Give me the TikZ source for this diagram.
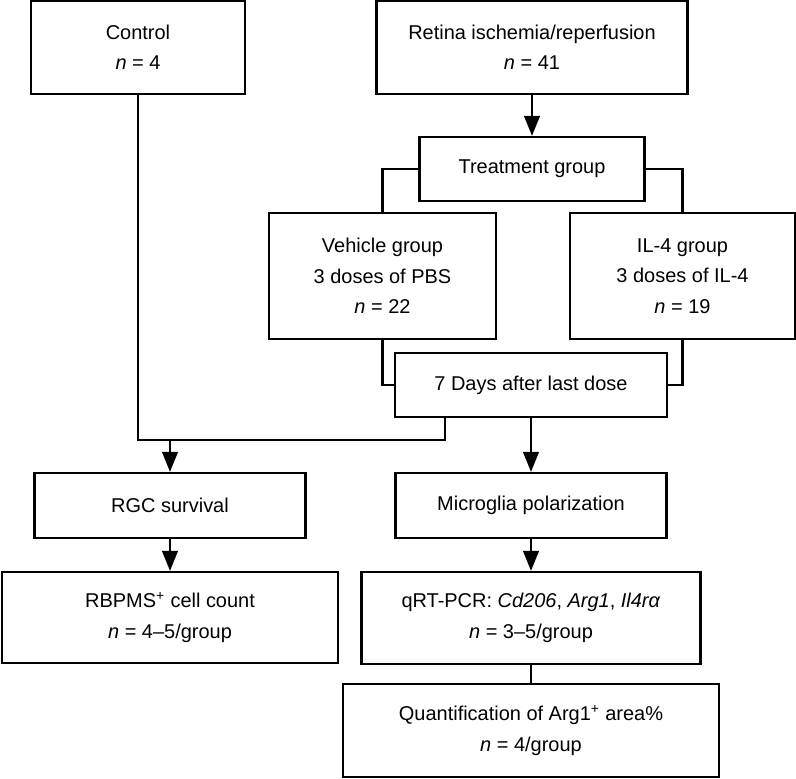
\documentclass[tikz,border=0pt]{standalone}
\usepackage{fontspec}
\setmainfont{Liberation Sans}
\usepackage{tikz}
\usetikzlibrary{arrows.meta, positioning, calc}
\tikzstyle{stage} = [rectangle, draw=black, line width=1.6pt, fill=white, align=center, inner sep=2pt, font={\fontsize{14.2}{21.7}\selectfont}]
\tikzstyle{arrow} = [line width=1.6pt, -{Triangle[length=5mm, width=3.9mm]}]
\tikzstyle{link} = [line width=1.6pt]

\begin{document}
\begin{tikzpicture}[x=0.025cm, y=-0.025cm]
    \useasboundingbox (0,0) rectangle (796,778);

    % Starting groups
    \node[stage, minimum width=5.35cm, minimum height=2.325cm] (ctrl) at (138, 47.5) {Control\\\emph{n} = 4};
    \node[stage, minimum width=7.775cm, minimum height=2.325cm] (ir) at (532, 47.5) {Retina ischemia/reperfusion\\\emph{n} = 41};

    % Treatment
    \node[stage, minimum width=5.625cm, minimum height=1.6cm] (treat) at (532, 169) {Treatment group};
    \node[stage, minimum width=5.675cm, minimum height=3.15cm] (vehicle) at (382.5, 276) {Vehicle group\\3 doses of PBS\\\emph{n} = 22};
    \node[stage, minimum width=5.625cm, minimum height=3.15cm] (il4) at (682.5, 276) {IL-4 group\\3 doses of IL-4\\\emph{n} = 19};
    \node[stage, minimum width=6.8cm, minimum height=1.6cm] (days) at (531, 385) {7 Days after last dose};

    % Read-outs
    \node[stage, minimum width=6.775cm, minimum height=1.625cm] (rgc) at (170, 505.5) {RGC survival};
    \node[stage, minimum width=6.775cm, minimum height=1.625cm] (micro) at (531, 505.5) {Microglia polarization};
    \node[stage, minimum width=8.4cm, minimum height=2.275cm] (rbpms) at (170, 617.5) {RBPMS\textsuperscript{+} cell count\\\emph{n} = 4--5/group};
    \node[stage, minimum width=8.475cm, minimum height=2.3cm] (qrt) at (531, 618) {qRT-PCR: \emph{Cd206}, \emph{Arg1}, \emph{Il4rα}\\\emph{n} = 3--5/group};
    \node[stage, minimum width=9.4cm, minimum height=2.325cm] (quant) at (531, 730.5) {Quantification of Arg1\textsuperscript{+} area\%\\\emph{n} = 4/group};

    % Connectors
    \coordinate (merge) at (445, 440);
    \draw[arrow] (ir) -- (treat);
    \draw[link] (treat.west) -| (vehicle.north);
    \draw[link] (treat.east) -| (il4.north);
    \draw[link] (vehicle.south) |- (days.west);
    \draw[link] (il4.south) |- (days.east);
    \draw[link] (ctrl.south) |- (merge) -- (merge |- days.south);
    \draw[arrow] (rgc.north |- merge) -- (rgc);
    \draw[arrow] (days) -- (micro);
    \draw[arrow] (rgc) -- (rbpms);
    \draw[arrow] (micro) -- (qrt);
    \draw[link] (qrt) -- (quant);
\end{tikzpicture}
\end{document}
